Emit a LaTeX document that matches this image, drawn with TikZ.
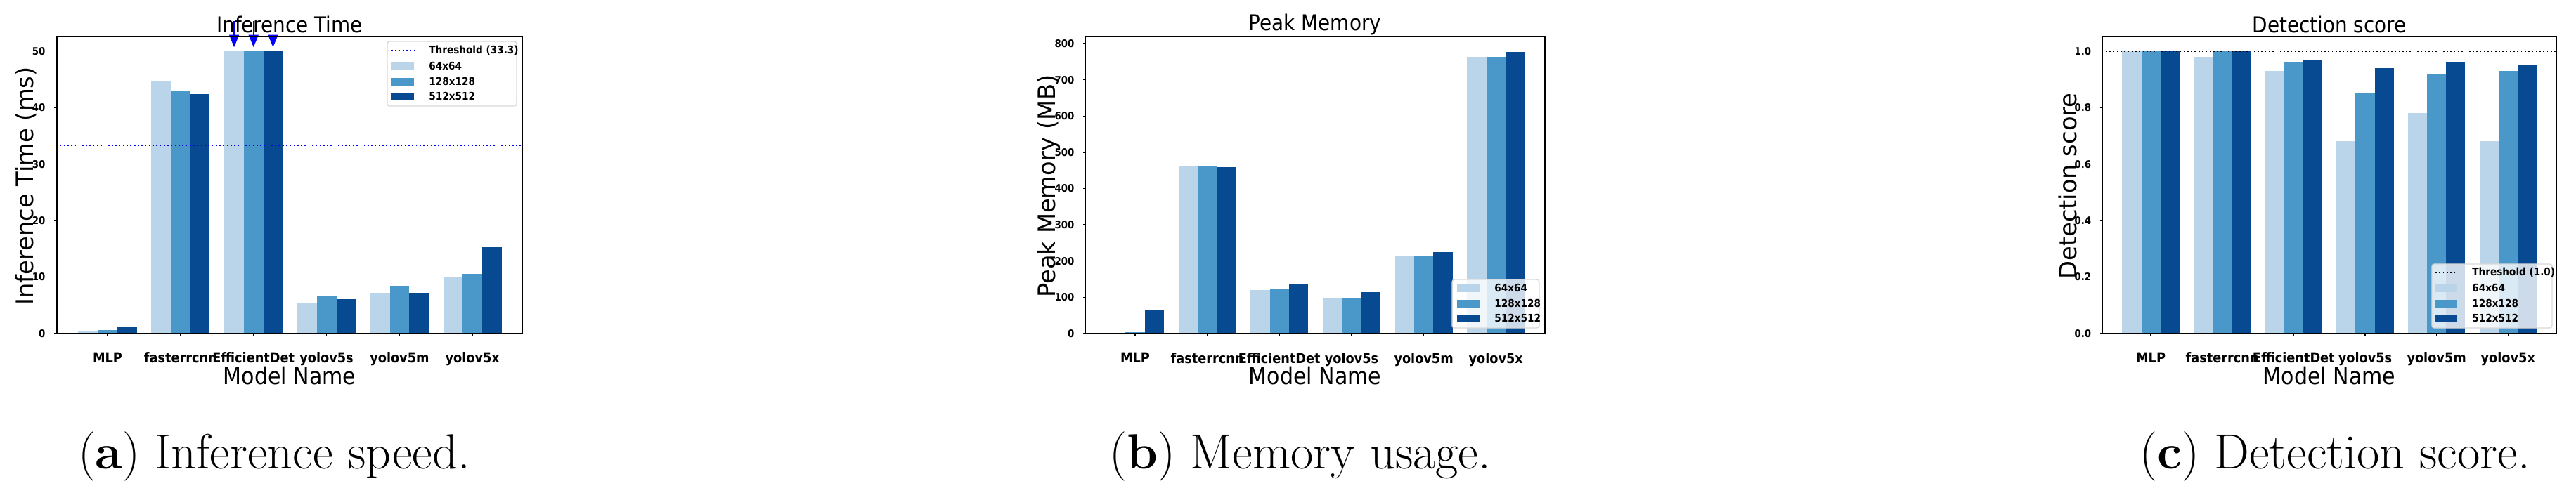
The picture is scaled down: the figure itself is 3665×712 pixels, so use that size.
\documentclass[tikz,border=0pt]{standalone}
\usepackage{fontspec}
\newfontfamily\cond{DejaVu Sans Condensed}
\newfontfamily\dvs{DejaVu Sans}
\usetikzlibrary{arrows.meta}
\definecolor{cA}{RGB}{186,212,233}
\definecolor{cB}{RGB}{74,152,201}
\definecolor{cC}{RGB}{8,74,145}
\tikzset{
  ax/.style={draw=black,line width=0.6pt},
  tick/.style={font=\cond\bfseries\fontsize{4.2}{4.2}\selectfont,anchor=east},
  xtl/.style={font=\cond\fontsize{5.6}{5.6}\selectfont\bfseries},
  xlab/.style={font=\cond\fontsize{9.5}{9.5}\selectfont},
  ylab/.style={font=\dvs\fontsize{9.6}{9.6}\selectfont,rotate=90},
  ttl/.style={font=\cond\fontsize{8.8}{8.8}\selectfont},
  leg/.style={draw=black!15,fill=white,fill opacity=0.8,rounded corners=1pt,line width=0.4pt},
  legt/.style={font=\cond\bfseries\fontsize{4.3}{4.3}\selectfont,anchor=west},
  captxt/.style={font=\fontsize{20}{20}\selectfont},
}
\begin{document}
\begin{tikzpicture}[x=0.01cm,y=-0.01cm]
\useasboundingbox (0,0) rectangle (3665,712);
\fill[white] (0,0) rectangle (3665,712);
% ---------------- panel a
\begin{scope}[shift={(153,475)},x={(1.038cm,0)},y={(0,0.0804cm)}]
\foreach \i/\a/\b/\c in {0/0.5/0.6/1.3,1/44.7/43.0/42.4,2/50/50/50,3/5.3/6.6/6.1,4/7.2/8.4/7.2,5/10.1/10.6/15.3}{
  \fill[cA] (\i-0.4,0) rectangle (\i-0.133,\a);
  \fill[cB] (\i-0.133,0) rectangle (\i+0.134,\b);
  \fill[cC] (\i+0.134,0) rectangle (\i+0.4,\c);
}
\draw[blue,densely dotted,line width=0.5pt] (-0.703,33.3) -- (5.685,33.3);
\foreach \v in {0,10,...,50}{\draw (-0.703,\v) -- ++(-0.03,0) node[tick]{\v};}
\foreach \i/\t in {0/MLP,1/fasterrcnn,2/EfficientDet,3/yolov5s,4/yolov5m,5/yolov5x}{
  \draw (\i,0) -- ++(0,-0.5) node[xtl,below=3pt]{\t};}
\foreach \dx in {-0.266,0,0.267}{
  \draw[blue,line width=0.4pt,-{Triangle[length=5pt,width=4pt]}] (2+\dx,55.3) -- (2+\dx,50.7);}
\end{scope}
\draw[ax] (80.6,52.3) rectangle (743,475);
\node[ttl] (ta) at (412,35) {Inference Time};
\node[ylab] (ya) at (37,265) {Inference Time (ms)};
\node[xlab] (xa) at (412,535) {Model Name};
\path[leg] (551,59) rectangle (735,151);
\draw[blue,densely dotted,line width=0.5pt] (557,72) -- (589,72);
\node[legt] at (598,72) {Threshold (33.3)};
\fill[cA] (557,88.5) rectangle (589,99.5); \node[legt] at (598,94) {64x64};
\fill[cB] (557,110.5) rectangle (589,121.5); \node[legt] at (598,116) {128x128};
\fill[cC] (557,131.5) rectangle (589,142.5); \node[legt] at (598,137) {512x512};
\node[captxt] (ca) at (390,650) {(\textbf{a}) Inference speed.};
% ---------------- panel b
\begin{scope}[shift={(1615,475)},x={(1.026cm,0)},y={(0,0.00515cm)}]
\foreach \i/\a/\b/\c in {0/2/4/64,1/463/463/459,2/120/122/135,3/98/98/115,4/215/215/225,5/763/763/778}{
  \fill[cA] (\i-0.4,0) rectangle (\i-0.133,\a);
  \fill[cB] (\i-0.133,0) rectangle (\i+0.134,\b);
  \fill[cC] (\i+0.134,0) rectangle (\i+0.4,\c);
}
\foreach \v in {0,100,...,800}{\draw (-0.692,\v) -- ++(-0.03,0) node[tick]{\v};}
\foreach \i/\t in {0/MLP,1/fasterrcnn,2/EfficientDet,3/yolov5s,4/yolov5m,5/yolov5x}{
  \draw (\i,0) -- ++(0,-8) node[xtl,below=3pt]{\t};}
\end{scope}
\draw[ax] (1544,52.3) rectangle (2198,475);
\node[ttl] (tb) at (1871,35) {Peak Memory};
\node[ylab] (yb) at (1492,265) {Peak Memory (MB)};
\node[xlab] (xb) at (1871,535) {Model Name};
\path[leg] (2066,398) rectangle (2190,467);
\fill[cA] (2073,404.5) rectangle (2105,415.5); \node[legt] at (2114,410) {64x64};
\fill[cB] (2073,426.5) rectangle (2105,437.5); \node[legt] at (2114,432) {128x128};
\fill[cC] (2073,447.5) rectangle (2105,458.5); \node[legt] at (2114,453) {512x512};
\node[captxt] (cb) at (1850,650) {(\textbf{b}) Memory usage.};
% ---------------- panel c
\begin{scope}[shift={(3060,475)},x={(1.016cm,0)},y={(0,4.02cm)}]
\foreach \i/\a/\b/\c in {0/1/1/1,1/0.98/1/1,2/0.93/0.96/0.97,3/0.68/0.85/0.94,4/0.78/0.92/0.96,5/0.68/0.93/0.95}{
  \fill[cA] (\i-0.4,0) rectangle (\i-0.133,\a);
  \fill[cB] (\i-0.133,0) rectangle (\i+0.134,\b);
  \fill[cC] (\i+0.134,0) rectangle (\i+0.4,\c);
}
\draw[black,densely dotted,line width=0.5pt] (-0.683,1) -- (5.676,1);
\foreach \v in {0.0,0.2,0.4,0.6,0.8,1.0}{\draw (-0.683,\v) -- ++(-0.03,0) node[tick]{\v};}
\foreach \i/\t in {0/MLP,1/fasterrcnn,2/EfficientDet,3/yolov5s,4/yolov5m,5/yolov5x}{
  \draw (\i,0) -- ++(0,-0.01) node[xtl,below=3pt]{\t};}
\end{scope}
\draw[ax] (2990.6,52.3) rectangle (3637,475);
\node[ttl] (tc) at (3314,35) {Detection score};
\node[ylab] (yc) at (2942,265) {Detection score};
\node[xlab] (xc) at (3314,535) {Model Name};
\path[leg] (3460,376) rectangle (3631,467);
\draw[black,densely dotted,line width=0.5pt] (3465,388) -- (3496,388);
\node[legt] at (3505,388) {Threshold (1.0)};
\fill[cA] (3465,404.5) rectangle (3496,415.5); \node[legt] at (3505,410) {64x64};
\fill[cB] (3465,426.5) rectangle (3496,437.5); \node[legt] at (3505,432) {128x128};
\fill[cC] (3465,447.5) rectangle (3496,458.5); \node[legt] at (3505,453) {512x512};
\node[captxt] (cc) at (3322,650) {(\textbf{c}) Detection score.};
\end{tikzpicture}
\end{document}
